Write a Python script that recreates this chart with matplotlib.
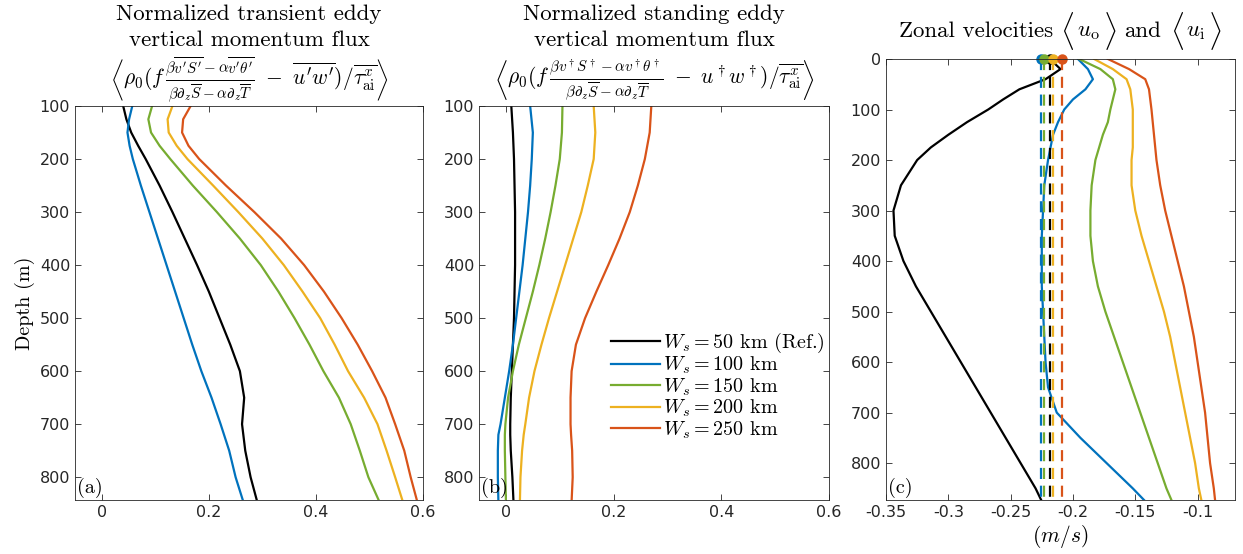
import matplotlib
matplotlib.use('Agg')
import matplotlib.pyplot as plt
import numpy as np
from matplotlib.offsetbox import (TextArea, HPacker, AnchoredOffsetbox,
                                  DrawingArea)

plt.rcParams['mathtext.fontset'] = 'cm'
plt.rcParams['font.family'] = 'DejaVu Sans'

# colours of the five runs (MATLAB default order, reference in black)
colors = ['black', '#0072BD', '#77AC30', '#EDB120', '#D95319']
labels = [r'$W_s = 50$ km (Ref.)', r'$W_s = 100$ km', r'$W_s = 150$ km',
          r'$W_s = 200$ km', r'$W_s = 250$ km']

# (a) transient eddy vertical momentum flux
depth_a = [100, 125, 150, 175, 200, 250, 300, 350, 400, 450, 500, 550, 600,
           650, 700, 750, 800, 845]
flux_a_ref = [0.040, 0.046, 0.055, 0.068, 0.082, 0.108, 0.132, 0.155, 0.178,
              0.200, 0.220, 0.240, 0.258, 0.266, 0.262, 0.268, 0.278, 0.290]
flux_a_100 = [0.057, 0.051, 0.048, 0.052, 0.058, 0.073, 0.089, 0.105, 0.121,
              0.137, 0.153, 0.169, 0.186, 0.205, 0.222, 0.238, 0.250, 0.264]
flux_a_150 = [0.094, 0.087, 0.092, 0.108, 0.128, 0.170, 0.215, 0.258, 0.297,
              0.330, 0.360, 0.388, 0.414, 0.443, 0.465, 0.482, 0.498, 0.518]
flux_a_200 = [0.132, 0.123, 0.125, 0.140, 0.160, 0.208, 0.255, 0.300, 0.340,
              0.375, 0.408, 0.435, 0.460, 0.490, 0.515, 0.532, 0.548, 0.562]
flux_a_250 = [0.166, 0.152, 0.150, 0.162, 0.182, 0.232, 0.285, 0.335, 0.378,
              0.415, 0.448, 0.478, 0.505, 0.530, 0.548, 0.565, 0.577, 0.589]

# (b) standing eddy vertical momentum flux
depth_b = [100, 150, 200, 250, 300, 350, 400, 450, 500, 550, 600, 650, 700,
           720, 750, 800, 845]
flux_b_ref = [0.010, 0.013, 0.015, 0.016, 0.017, 0.017, 0.017, 0.016, 0.015,
              0.013, 0.011, 0.009, 0.008, 0.008, 0.009, 0.012, 0.014]
flux_b_100 = [0.045, 0.050, 0.048, 0.045, 0.041, 0.036, 0.031, 0.025, 0.019,
              0.013, 0.006, -0.002, -0.010, -0.014, -0.015, -0.015, -0.014]
flux_b_150 = [0.105, 0.104, 0.100, 0.092, 0.083, 0.073, 0.062, 0.050, 0.037,
              0.024, 0.013, 0.004, -0.001, -0.002, -0.002, -0.001, 0.000]
flux_b_200 = [0.163, 0.166, 0.163, 0.152, 0.140, 0.125, 0.110, 0.095, 0.080,
              0.066, 0.053, 0.043, 0.036, 0.033, 0.030, 0.027, 0.026]
flux_b_250 = [0.270, 0.267, 0.258, 0.245, 0.230, 0.211, 0.190, 0.168, 0.147,
              0.130, 0.122, 0.120, 0.120, 0.121, 0.123, 0.124, 0.122]

# (c) zonal velocities, solid <u_o>, dashed <u_i>
depth_c = [0, 20, 40, 60, 80, 100, 125, 150, 175, 200, 250, 300, 350, 400,
           450, 500, 550, 600, 650, 700, 750, 800, 850, 873]
uo_ref = [-0.2185, -0.210, -0.222, -0.243, -0.256, -0.268, -0.285, -0.300,
          -0.314, -0.325, -0.338, -0.344, -0.343, -0.336, -0.326, -0.314,
          -0.302, -0.290, -0.278, -0.266, -0.254, -0.242, -0.230, -0.2255]
uo_100 = [-0.196, -0.188, -0.184, -0.190, -0.200, -0.207, -0.212, -0.216,
          -0.218, -0.220, -0.223, -0.224, -0.225, -0.225, -0.225, -0.224,
          -0.223, -0.222, -0.220, -0.213, -0.194, -0.173, -0.152, -0.143]
uo_150 = [-0.195, -0.178, -0.168, -0.166, -0.168, -0.170, -0.172, -0.176,
          -0.179, -0.182, -0.185, -0.186, -0.186, -0.184, -0.180, -0.174,
          -0.167, -0.160, -0.153, -0.146, -0.139, -0.132, -0.125, -0.121]
uo_200 = [-0.183, -0.168, -0.157, -0.154, -0.153, -0.152, -0.152, -0.152,
          -0.152, -0.153, -0.153, -0.150, -0.145, -0.139, -0.133, -0.127,
          -0.122, -0.118, -0.114, -0.110, -0.106, -0.102, -0.099, -0.097]
uo_250 = [-0.172, -0.155, -0.142, -0.139, -0.138, -0.137, -0.136, -0.135,
          -0.134, -0.133, -0.130, -0.126, -0.121, -0.116, -0.111, -0.107,
          -0.103, -0.100, -0.097, -0.094, -0.092, -0.090, -0.087, -0.086]
ui_vals = [-0.2182, -0.2256, -0.2235, -0.2164, -0.2084]
ui_depth = [0, 873]

flux_a = [flux_a_ref, flux_a_100, flux_a_150, flux_a_200, flux_a_250]
flux_b = [flux_b_ref, flux_b_100, flux_b_150, flux_b_200, flux_b_250]
uo = [uo_ref, uo_100, uo_150, uo_200, uo_250]

W, H = 1243, 554
fig = plt.figure(figsize=(W / 100, H / 100), dpi=100)


def axes_px(left, top, right, bottom):
    return fig.add_axes([left / W, 1 - bottom / H, (right - left) / W,
                         (bottom - top) / H])


ax_a = axes_px(75, 106, 423, 500)
ax_b = axes_px(479, 106, 829, 500)
ax_c = axes_px(886, 59, 1235, 500)

serif = 'cmr10'
lw = 1.6

for ax in (ax_a, ax_b, ax_c):
    ax.tick_params(direction='in', top=True, right=True, labelsize=11.5,
                   colors='#262626', length=4, width=0.6)
    for sp in ax.spines.values():
        sp.set_color('#262626')
        sp.set_linewidth(0.6)

for vals, c in zip(flux_a, colors):
    ax_a.plot(vals, depth_a, color=c, lw=lw)
for vals, c, lab in zip(flux_b, colors, labels):
    ax_b.plot(vals, depth_b, color=c, lw=lw, label=lab)

for ax in (ax_a, ax_b):
    ax.set_xlim(-0.05, 0.6)
    ax.set_ylim(843, 100)
    ax.set_xticks([0, 0.2, 0.4, 0.6])
    ax.set_xticklabels(['0', '0.2', '0.4', '0.6'])
    ax.set_yticks(np.arange(100, 900, 100))

ax_a.set_ylabel('Depth (m)', fontfamily=serif, fontsize=14.5, labelpad=3)

# titles of (a) and (b)
ax_a.text(0.5, 1.2, 'Normalized transient eddy\nvertical momentum flux',
          transform=ax_a.transAxes, ha='center', va='center',
          fontfamily=serif, fontsize=16.5, linespacing=1.45)
ax_a.text(0.5, 1.066,
          r'$\left\langle\rho_0 ( f\,\frac{\beta\overline{v^\prime S^\prime}'
          r'-\alpha\overline{v^\prime\theta^\prime}}{\beta\partial_z\overline{S}'
          r'-\alpha\partial_z\overline{T}}\ -\ \overline{u^\prime w^\prime})'
          r'/\overline{\tau^x_{\rm ai}}\right\rangle$',
          transform=ax_a.transAxes, ha='center', va='center', fontsize=15.5)
ax_b.text(0.5, 1.2, 'Normalized standing eddy\nvertical momentum flux',
          transform=ax_b.transAxes, ha='center', va='center',
          fontfamily=serif, fontsize=16.5, linespacing=1.45)
ax_b.text(0.5, 1.066,
          r'$\left\langle\rho_0 ( f\,\frac{\beta v^\dagger S^\dagger'
          r'-\alpha v^\dagger\theta^\dagger}{\beta\partial_z\overline{S}'
          r'-\alpha\partial_z\overline{T}}\ -\ u^\dagger w^\dagger)'
          r'/\overline{\tau^x_{\rm ai}}\right\rangle$',
          transform=ax_b.transAxes, ha='center', va='center', fontsize=15.5)

ax_b.legend(loc='lower right', bbox_to_anchor=(1.01, 0.13), frameon=False,
            prop={'family': serif, 'size': 14.5}, handlelength=2.4,
            handletextpad=0.15, labelspacing=0.0, borderaxespad=0.0)

# (c)
for vals, c in zip(uo, colors):
    ax_c.plot(vals, depth_c, color=c, lw=lw)
for x, c in zip(ui_vals, colors):
    ax_c.plot([x, x], ui_depth, color=c, lw=lw, ls=(0, (5, 3)),
              marker='o', markevery=[0], markersize=6.5, clip_on=False)
ax_c.set_xlim(-0.35, -0.07)
ax_c.set_ylim(873, 0)
ax_c.set_xticks([-0.35, -0.3, -0.25, -0.2, -0.15, -0.1])
ax_c.set_xticklabels(['-0.35', '-0.3', '-0.25', '-0.2', '-0.15', '-0.1'])
ax_c.set_yticks(np.arange(0, 900, 100))
ax_c.set_xlabel(r'$(m/s)$', fontsize=15.5, labelpad=2)

# title of (c) with tall angle brackets
small = dict(fontfamily=serif, fontsize=16.5)
big = dict(fontsize=22)
pieces = [TextArea('Zonal velocities', textprops=small),
          TextArea(r'$\langle$', textprops=big),
          TextArea(r'$u_{\rm o}$', textprops=small),
          TextArea(r'$\rangle$', textprops=big),
          TextArea('and', textprops=small),
          TextArea(r'$\langle$', textprops=big),
          TextArea(r'$u_{\rm i}$', textprops=small),
          TextArea(r'$\rangle$', textprops=big)]
seps = [5, 2, 2, 6, 6, 2, 2]
row = [pieces[0]]
for gap, piece in zip(seps, pieces[1:]):
    row.append(DrawingArea(gap, 1, 0, 0))
    row.append(piece)
title_c = HPacker(children=row, align='center', pad=0, sep=0)
anchored = AnchoredOffsetbox(loc='lower center', child=title_c, pad=0,
                             borderpad=0, frameon=False,
                             bbox_to_anchor=(0.5, 1.015),
                             bbox_transform=ax_c.transAxes)
ax_c.add_artist(anchored)

for ax, tag in zip((ax_a, ax_b, ax_c), ('(a)', '(b)', '(c)')):
    ax.text(0.005, 0.005, tag, transform=ax.transAxes, ha='left',
            va='bottom', fontfamily=serif, fontsize=14.5)

fig.savefig('out.png', dpi=100)
